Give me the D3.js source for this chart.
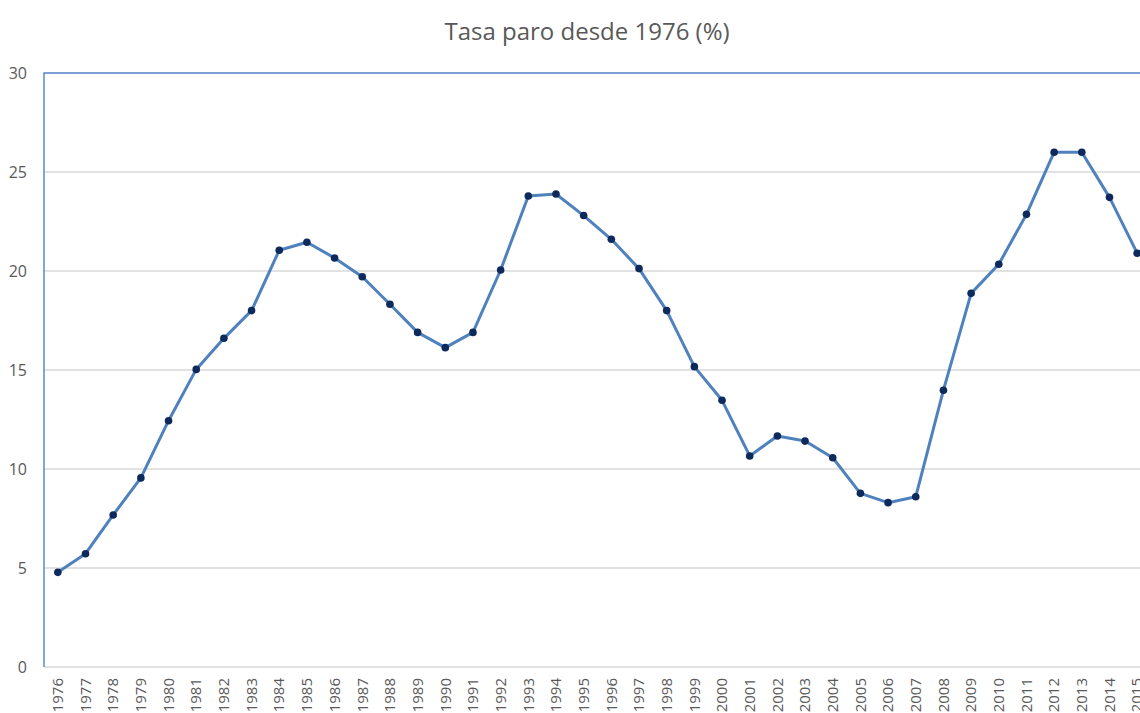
<!DOCTYPE html>
<html>
<head>
<meta charset="utf-8">
<script src="https://cdn.jsdelivr.net/npm/d3@7"></script>
<style>
    body { margin: 0; background: #fff; overflow: hidden; }
    .axis text { font-family: "Open Sans", "Liberation Sans", sans-serif; fill: #595959; }
</style>
</head>
<body>
<svg id="linechart" width="1140" height="713"></svg>
<script>
var years = ["1976", "1977", "1978", "1979", "1980", "1981", "1982", "1983", "1984", "1985",
    "1986", "1987", "1988", "1989", "1990", "1991", "1992", "1993", "1994", "1995",
    "1996", "1997", "1998", "1999", "2000", "2001", "2002", "2003", "2004", "2005",
    "2006", "2007", "2008", "2009", "2010", "2011", "2012", "2013", "2014", "2015"];

var tasaParo = [4.78, 5.72, 7.68, 9.55, 12.44, 15.03, 16.6, 18.0, 21.05, 21.45,
    20.66, 19.71, 18.32, 16.9, 16.13, 16.9, 20.05, 23.79, 23.89, 22.8,
    21.6, 20.12, 18.0, 15.17, 13.47, 10.66, 11.67, 11.41, 10.57, 8.77,
    8.3, 8.6, 13.98, 18.87, 20.34, 22.86, 26.0, 26.0, 23.72, 20.9];

var yTicks = [0, 5, 10, 15, 20, 25, 30];

var title = "Tasa paro desde 1976 (%)";

lineChart();

function lineChart() {
    var svg = d3.select("#linechart"),
        margin = {top: 73, left: 44},
        width = 1107,
        height = 594;

    var g = svg.append("g")
        .attr("transform", "translate(" + margin.left + "," + margin.top + ")");

    var x = d3.scaleBand().domain(years).range([0, width]),
        y = d3.scaleLinear().domain([0, 30]).range([height, 0]);

    var data = years.map(function (d, i) { return {year: d, value: tasaParo[i]}; });

    // title
    svg.append("text")
        .attr("x", 587)
        .attr("y", 40)
        .attr("text-anchor", "middle")
        .style("font-family", "'Open Sans', 'Liberation Sans', sans-serif")
        .style("font-size", "24px")
        .style("fill", "#595959")
        .text(title);

    // gridlines
    g.selectAll(".grid")
        .data(yTicks)
        .enter().append("line")
        .attr("class", "grid")
        .attr("x1", 0)
        .attr("x2", width)
        .attr("y1", function (d) { return y(d); })
        .attr("y2", function (d) { return y(d); })
        .attr("stroke", "#d9d9d9")
        .attr("stroke-width", 1.3);

    // plot border (top + left)
    g.append("path")
        .attr("d", "M0," + height + "V0H" + width)
        .attr("fill", "none")
        .attr("stroke", "#5b8bcf")
        .attr("stroke-width", 1.5);

    // y axis
    var yAxis = g.append("g")
        .attr("class", "axis axis--y")
        .call(d3.axisLeft(y).tickValues(yTicks).tickSize(0).tickPadding(17));
    yAxis.select(".domain").remove();
    yAxis.selectAll("text").style("font-size", "16px");

    // x axis
    var xAxis = g.append("g")
        .attr("class", "axis axis--x")
        .attr("transform", "translate(0," + height + ")")
        .call(d3.axisBottom(x).tickSize(0));
    xAxis.select(".domain").remove();
    xAxis.selectAll("text")
        .style("font-size", "15px")
        .attr("transform", "rotate(-90)")
        .attr("x", -11)
        .attr("y", 0)
        .attr("dy", "0.35em")
        .attr("text-anchor", "end");

    var line = d3.line()
        .x(function (d) { return x(d.year) + x.bandwidth() / 2; })
        .y(function (d) { return y(d.value); });

    g.append("path")
        .datum(data)
        .attr("fill", "none")
        .attr("stroke", "#4f81bd")
        .attr("stroke-width", 3)
        .attr("stroke-linejoin", "round")
        .attr("d", line);

    g.selectAll(".dot")
        .data(data)
        .enter().append("circle")
        .attr("class", "dot")
        .attr("cx", function (d) { return x(d.year) + x.bandwidth() / 2; })
        .attr("cy", function (d) { return y(d.value); })
        .attr("r", 3.8)
        .attr("fill", "#0e2a5c");
}
</script>
</body>
</html>
